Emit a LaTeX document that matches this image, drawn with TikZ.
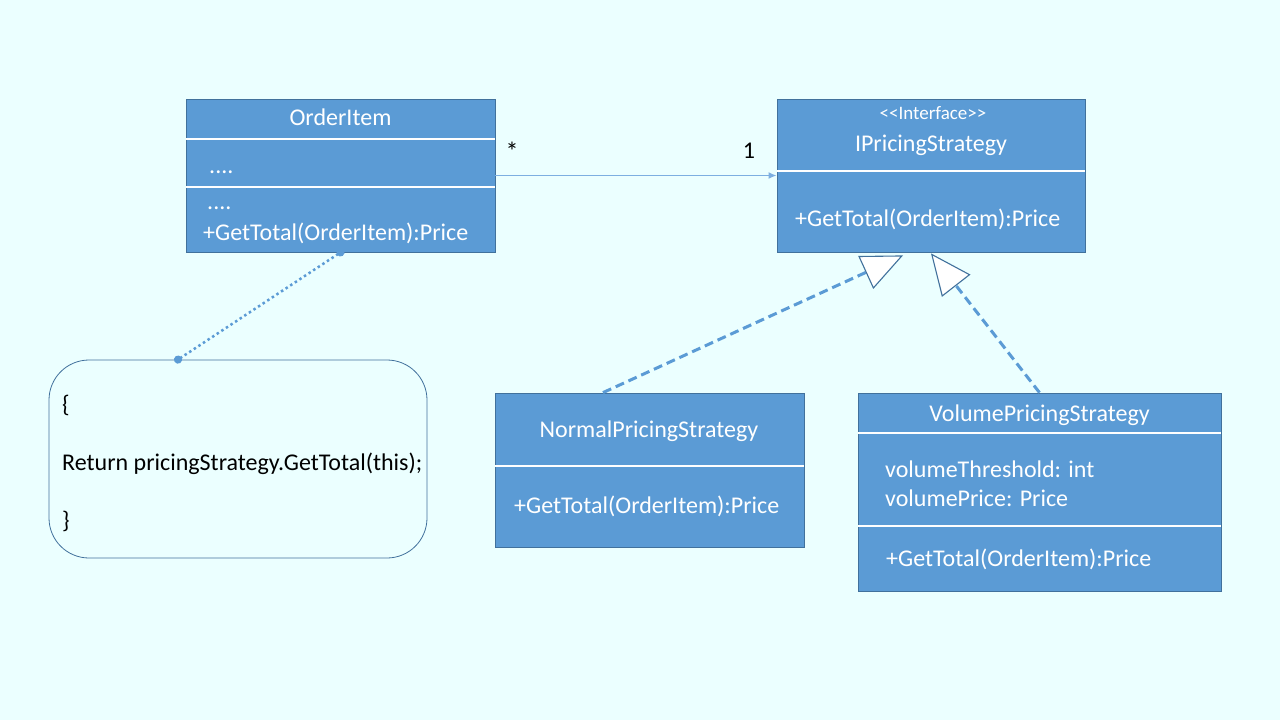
\documentclass[tikz,border=0pt]{standalone}
\usepackage{fontspec}
\setmainfont{Carlito}
\usetikzlibrary{arrows.meta}
\definecolor{slidebg}{RGB}{235,255,255}
\definecolor{boxfill}{RGB}{91,155,213}
\definecolor{boxline}{RGB}{65,113,156}
\definecolor{assoc}{RGB}{125,175,225}

\begin{document}
\begin{tikzpicture}[x=1pt, y=-1pt,
        classbox/.style={draw=boxline, fill=boxfill, line width=0.8pt, inner sep=0pt},
        divider/.style={white, line width=2pt},
        txt/.style={text=white, font=\fontsize{24}{28}\selectfont, inner sep=0pt},
        stereo/.style={text=white, font=\fontsize{19}{21}\selectfont, inner sep=0pt},
        codetxt/.style={text=black, font=\fontsize{24}{28}\selectfont, inner sep=0pt},
        realize/.style={boxfill, line width=3pt, dash pattern=on 9pt off 5pt,
            -{Triangle[color=boxline, fill=white, length=41pt, width=36pt, line width=1.1pt]}},
        notelink/.style={boxfill, line width=2.5pt, dash pattern=on 2.5pt off 3pt,
            shorten <=-4pt, shorten >=-4pt,
            {Circle[length=8pt]}-{Circle[length=8pt]}}]
    \fill[slidebg] (0,0) rectangle (1280,720);
    \useasboundingbox (0,0) rectangle (1280,720);

    % class boxes
    \node[classbox, minimum width=309pt, minimum height=153pt] (orderitem) at (340.5,175.5) {};
    \node[classbox, minimum width=308pt, minimum height=153pt] (iface) at (931,175.5) {};
    \node[classbox, minimum width=309pt, minimum height=154pt] (normal) at (649.5,470) {};
    \node[classbox, minimum width=363pt, minimum height=198pt] (volume) at (1039.5,492) {};
    \node[draw=boxline, line width=0.8pt, rounded corners=40pt,
          minimum width=378pt, minimum height=198pt] (note) at (238,459) {};

    % compartments
    \foreach \d in {40.5,88.5}
        \draw[divider] ([yshift=-\d pt]orderitem.north west) -- ([yshift=-\d pt]orderitem.north east);
    \draw[divider] ([yshift=-72.5pt]iface.north west) -- ([yshift=-72.5pt]iface.north east);
    \draw[divider] ([yshift=-73pt]normal.north west) -- ([yshift=-73pt]normal.north east);
    \foreach \d in {40.5,133.5}
        \draw[divider] ([yshift=-\d pt]volume.north west) -- ([yshift=-\d pt]volume.north east);

    % texts
    \node[txt, anchor=base] (orderitem-name) at (340.5,125) {OrderItem};
    \node[txt, anchor=base west] (orderitem-attr) at (209,173) {....};
    \node[txt, anchor=base west] (orderitem-dots) at (207,209) {....};
    \node[txt, anchor=base west] (orderitem-op) at (203,240) {+GetTotal(OrderItem):Price};

    \node[stereo, anchor=base] (iface-stereo) at (933,119) {<{}<Interface>{}>};
    \node[txt, anchor=base] (iface-name) at (931,151) {IPricingStrategy};
    \node[txt, anchor=base west] (iface-op) at (795,226) {+GetTotal(OrderItem):Price};

    \node[txt, anchor=base] (normal-name) at (649,437) {NormalPricingStrategy};
    \node[txt, anchor=base west] (normal-op) at (514,513) {+GetTotal(OrderItem):Price};

    \node[txt, anchor=base] (volume-name) at (1039.5,421) {VolumePricingStrategy};
    \node[txt, anchor=base west] (volume-attr1) at (885,477) {volumeThreshold: int};
    \node[txt, anchor=base west] (volume-attr2) at (885,506) {volumePrice: Price};
    \node[txt, anchor=base west] (volume-op) at (886,566) {+GetTotal(OrderItem):Price};

    \node[codetxt, anchor=base west] (note-open) at (62,412) {\{};
    \node[codetxt, anchor=base west] (note-body) at (62,470) {Return pricingStrategy.GetTotal(this);};
    \node[codetxt, anchor=base west] (note-close) at (62,528) {\}};

    % association
    \draw[assoc, line width=1.5pt, -{Latex[length=8pt, width=7pt]}] (orderitem.east) -- (iface.west);
    \node[codetxt, anchor=base, font=\fontsize{26}{28}\selectfont] (mult-many) at (512,160) {*};
    \node[codetxt, anchor=base] (mult-one) at (749,158) {1};

    % realizations
    \draw[realize] (normal.121) -- ([xshift=-28pt, yshift=-3pt]iface.south);
    \draw[realize] (volume.north) -- ([yshift=-1pt]iface.south);

    % note link
    \draw[notelink] (orderitem.south) -- ([xshift=-60pt]note.north);
\end{tikzpicture}
\end{document}
